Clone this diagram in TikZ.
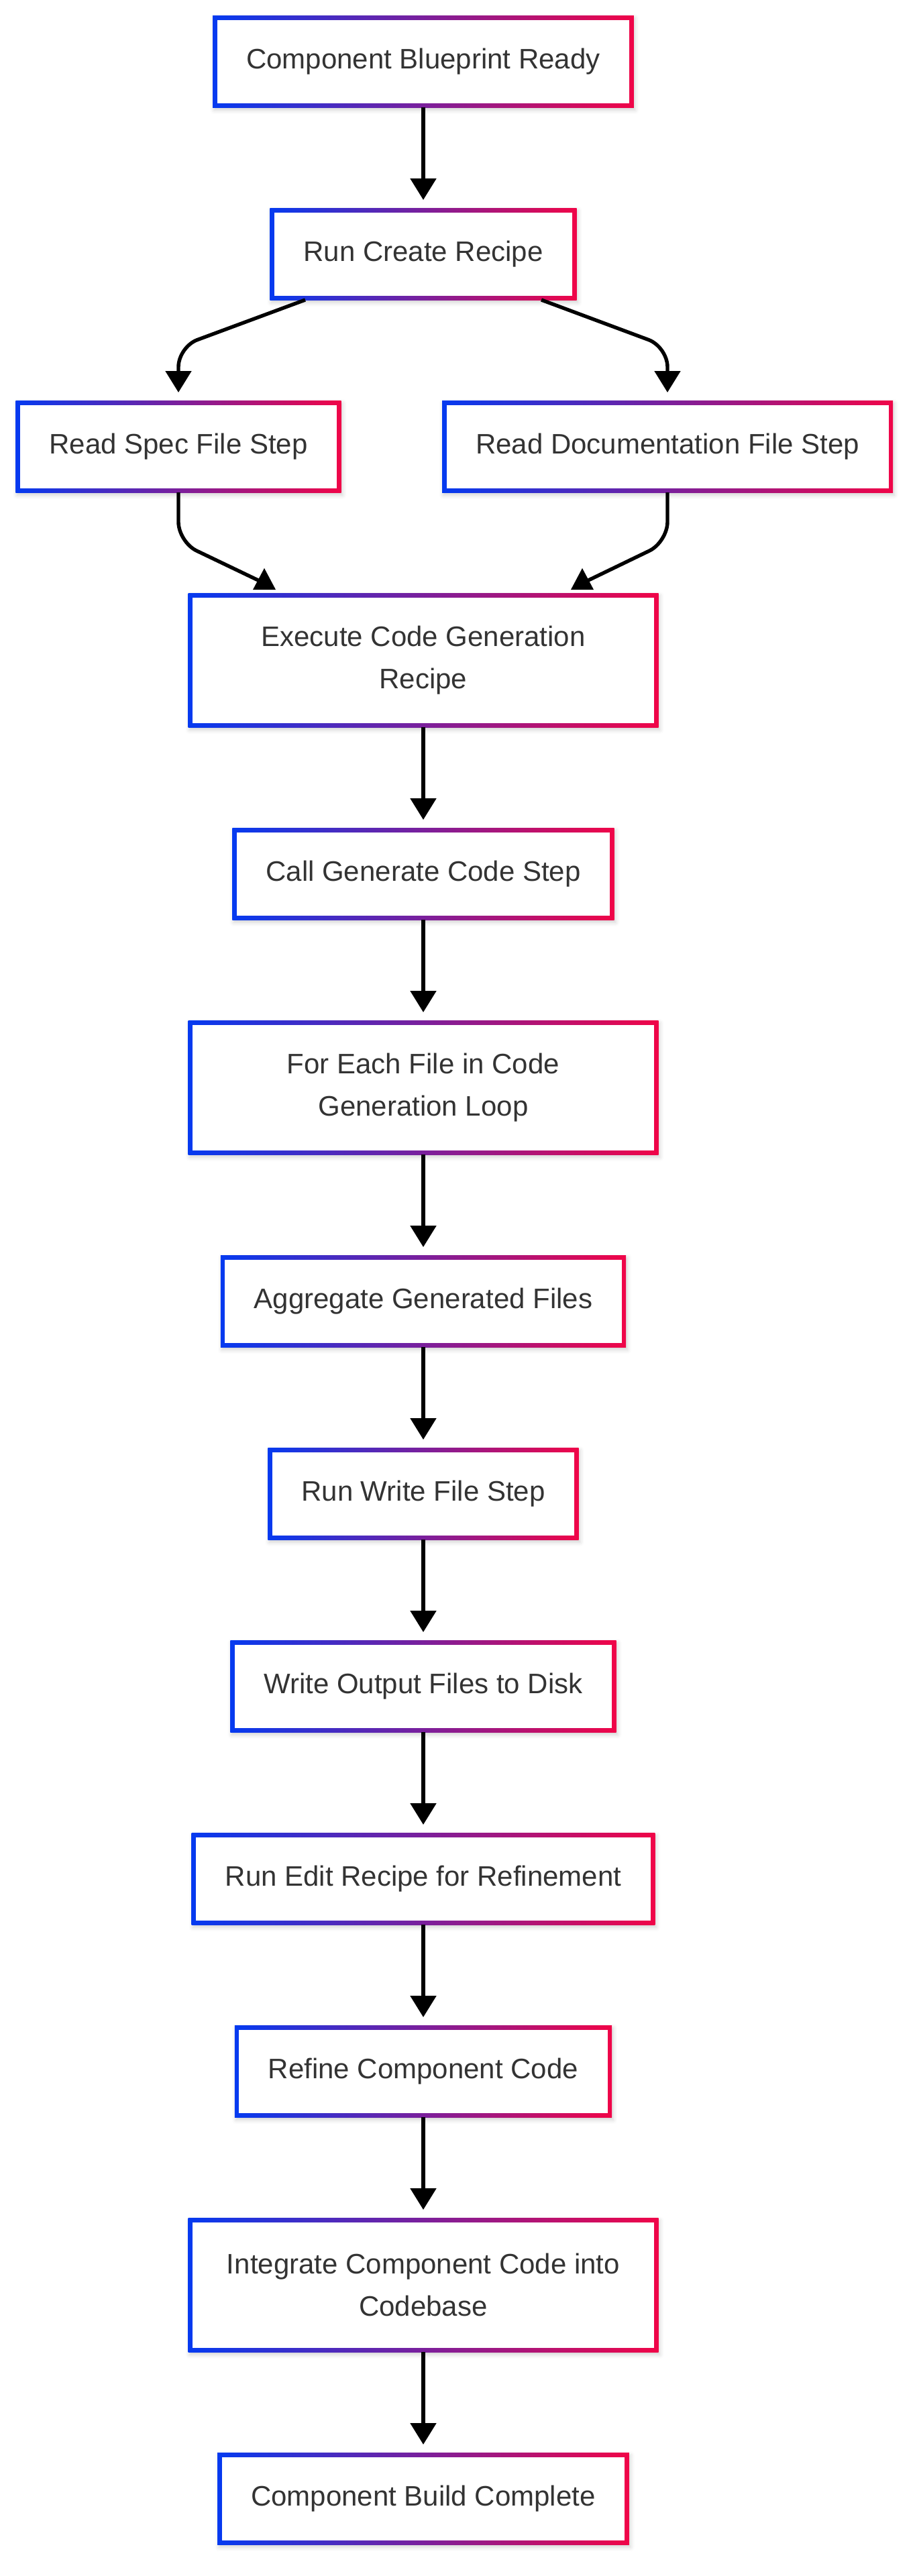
\documentclass[tikz,border=0pt]{standalone}
\usepackage{fontspec}
\setmainfont{Liberation Sans}
\usetikzlibrary{arrows.meta,positioning,shadows.blur}
\definecolor{flowblue}{RGB}{5,58,240}
\definecolor{flowred}{RGB}{240,5,72}
\definecolor{flowtext}{RGB}{51,51,51}

\begin{document}
\begin{tikzpicture}[
    stagebase/.style={rectangle, left color=flowblue, right color=flowred,
                  inner xsep=25pt, inner ysep=0pt, outer sep=0pt, text=flowtext,
                  font=\fontsize{21}{31.75}\selectfont,
                  blur shadow={shadow xshift=1pt, shadow yshift=-2pt,
                               shadow blur radius=3pt, shadow opacity=18},
                  path picture={\fill[white]
                    ([shift={(3.25pt,3.25pt)}]path picture bounding box.south west) rectangle
                    ([shift={(-3.25pt,-3.25pt)}]path picture bounding box.north east);}},
    stage/.style={stagebase, minimum height=68.5pt, text height=15pt, text depth=4.5pt},
    widestage/.style={stagebase, align=center, minimum width=350.5pt, minimum height=100pt},
    arrow/.style={line width=2.7pt, -{Triangle[length=16pt,width=19pt]}, shorten >=6pt},
    merge/.style={line width=2.7pt, rounded corners=15pt}
  ]
    \useasboundingbox (0,0) rectangle (682pt,-1920pt);

    \node[stage] (ready) at (315.5pt,-45.75pt) {Component Blueprint Ready};
    \node[stage, below=75pt of ready]  (create) {Run Create Recipe};
    \node[stage, below=75pt of create, xshift=-182.5pt] (spec) {Read Spec File Step};
    \node[stage, below=75pt of create, xshift=182pt]    (docs) {Read Documentation File Step};
    \node[widestage, below=75pt of spec, xshift=182.5pt] (execgen) {Execute Code Generation\\Recipe};
    \node[stage, below=75pt of execgen]   (callgen)    {Call Generate Code Step};
    \node[widestage, below=75pt of callgen] (foreach)  {For Each File in Code\\Generation Loop};
    \node[stage, below=75pt of foreach]   (aggregate)  {Aggregate Generated Files};
    \node[stage, below=75pt of aggregate] (writestep)  {Run Write File Step};
    \node[stage, below=75pt of writestep] (writeout)   {Write Output Files to Disk};
    \node[stage, below=75pt of writeout]  (editrecipe) {Run Edit Recipe for Refinement};
    \node[stage, below=75pt of editrecipe] (refine)    {Refine Component Code};
    \node[widestage, below=75pt of refine] (integrate) {Integrate Component Code into\\Codebase};
    \node[stage, below=75pt of integrate] (done)       {Component Build Complete};

    \draw[arrow] (ready) -- (create);
    \draw[arrow, rounded corners=15pt] ([xshift=-88pt]create.south) -- ([yshift=40pt]spec.north) -- (spec.north);
    \draw[arrow, rounded corners=15pt] ([xshift=88pt]create.south) -- ([yshift=40pt]docs.north) -- (docs.north);

    % the two joining lines end in upright heads on top of execgen
    \draw[merge] (spec.south) -- ([yshift=-37pt]spec.south) -- ([shift={(-122pt,9pt)}]execgen.north);
    \draw[merge] (docs.south) -- ([yshift=-37pt]docs.south) -- ([shift={(122pt,9pt)}]execgen.north);
    \fill ([shift={(-118.5pt,18.5pt)}]execgen.north) -- ([shift={(-127pt,2.5pt)}]execgen.north)
          -- ([shift={(-110pt,2.5pt)}]execgen.north) -- cycle;
    \fill ([shift={(118.5pt,18.5pt)}]execgen.north) -- ([shift={(110pt,2.5pt)}]execgen.north)
          -- ([shift={(127pt,2.5pt)}]execgen.north) -- cycle;

    \draw[arrow] (execgen) -- (callgen);
    \draw[arrow] (callgen) -- (foreach);
    \draw[arrow] (foreach) -- (aggregate);
    \draw[arrow] (aggregate) -- (writestep);
    \draw[arrow] (writestep) -- (writeout);
    \draw[arrow] (writeout) -- (editrecipe);
    \draw[arrow] (editrecipe) -- (refine);
    \draw[arrow] (refine) -- (integrate);
    \draw[arrow] (integrate) -- (done);
  \end{tikzpicture}
\end{document}
